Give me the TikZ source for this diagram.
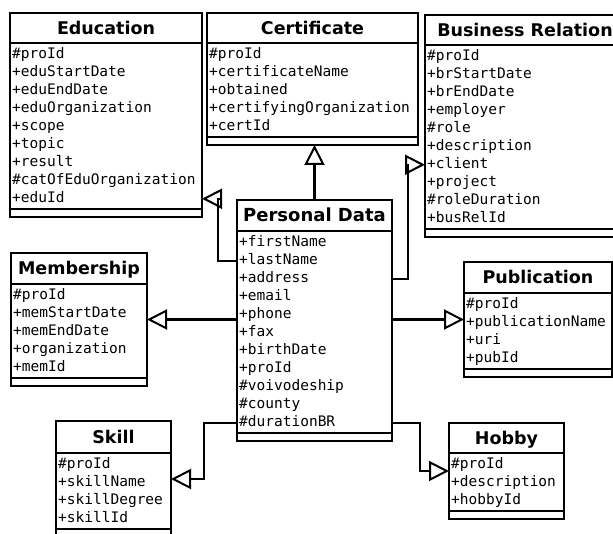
\documentclass[tikz,border=0pt]{standalone}
\usepackage{fontspec}
\newfontfamily\dvsans{DejaVu Sans}
\newfontfamily\dvmono{DejaVu Sans Mono}
\usetikzlibrary{arrows.meta}

\tikzset{
  classbox/.style={draw, line width=2.4pt, inner sep=0pt, outer sep=0pt},
  classline/.style={line width=2.4pt},
  titletext/.style={font=\dvsans\bfseries\fontsize{17.5}{20}\selectfont,
    inner sep=0pt, anchor=base},
  attr/.style={font=\dvmono\fontsize{14.5}{16}\selectfont, anchor=base west,
    inner sep=0pt, text height=11pt, text depth=3.5pt},
  gen/.style={draw, line width=2.2pt, line join=miter,
    -{Triangle[open, length=20pt, width=20pt, line width=2pt]}},
}

% #1 name, #2 left, #3 top, #4 right, #5 bottom of title band, #6 title, #7 attributes
\newcommand\umlclass[7]{%
  \gdef\ucn{0}%
  \foreach \a [count=\i] in {#7} {%
    \node[attr] (#1-\i) at (#2+2, {#5+15.5+(\i-1)*18}) {\a};
    \xdef\ucn{\i}%
  }%
  \pgfmathsetmacro\ucsep{#5+11+(\ucn-1)*18+11}%
  \pgfmathsetmacro\ucbot{\ucsep+8}%
  \node[classbox, anchor=north west, minimum width={#4-#2},
        minimum height={\ucbot-#3}] (#1) at (#2,#3) {};
  \draw[classline] (#2,#5) -- (#4,#5);
  \draw[classline] (#2,\ucsep) -- (#4,\ucsep);
  \node[titletext] (#1-title) at ({(#2+#4)/2},{(#3+#5)/2+6.3}) {#6};
}

\begin{document}
\begin{tikzpicture}[x=1pt, y=-1pt]
\useasboundingbox[fill=white] (0,0) rectangle (613,534);

\umlclass{edu}{10}{13}{202}{43}{Education}
  {\#proId, +eduStartDate, +eduEndDate, +eduOrganization, +scope, +topic,
   +result, \#catOfEduOrganization, +eduId}
\umlclass{cert}{207}{13}{418}{43}{Certificate}
  {\#proId, +certificateName, +obtained, +certifyingOrganization, +certId}
\umlclass{br}{425}{15}{625}{45}{Business Relation}
  {\#proId, +brStartDate, +brEndDate, +employer, \#role, +description,
   +client, +project, \#roleDuration, +busRelId}
\umlclass{pd}{237}{200}{392}{231}{\fontsize{18}{20}\selectfont Personal Data}
  {+firstName, +lastName, +address, +email, +phone, +fax, +birthDate,
   +proId, \#voivodeship, \#county, \#durationBR}
\umlclass{mem}{11}{253}{147}{284}{Membership}
  {\#proId, +memStartDate, +memEndDate, +organization, +memId}
\umlclass{pub}{464}{262}{612}{293}{Publication}
  {\#proId, +publicationName, +uri, +pubId}
\umlclass{skill}{56}{421}{171}{453}{Skill}
  {\#proId, +skillName, +skillDegree, +skillId}
\umlclass{hob}{449}{423}{564}{453}{Hobby}
  {\#proId, +description, +hobbyId}

% generalisation connectors from Personal Data
\draw[gen] (pd.north) -- (pd.north |- cert.south);
\draw[gen] (pd.west |- pd-2) -- ++(-19,0) |- (edu.east |- edu-9);
\draw[gen] (pd.east |- pd-3) -- ++(16,0) |- (br.west |- br-7);
\draw[gen] (pd.west |- mem.east) -- (mem.east);
\draw[gen] (pd.east |- pub.west) -- (pub.west);
\draw[gen] (pd.west |- pd-11) -- ++(-33,0) |- (skill.east);
\draw[gen] (pd.east |- pd-11) -- ++(28,0) |- (hob.west);
\end{tikzpicture}
\end{document}
